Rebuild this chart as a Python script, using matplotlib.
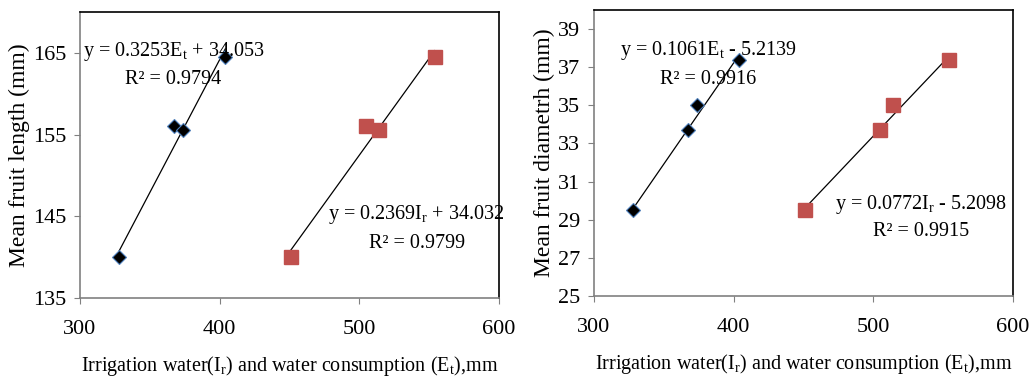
import matplotlib.pyplot as plt
import numpy as np

plt.rcParams['font.family'] = 'Liberation Serif'
plt.rcParams['mathtext.fontset'] = 'custom'
plt.rcParams['mathtext.rm'] = 'Liberation Serif'
plt.rcParams['mathtext.it'] = 'Liberation Serif:italic'

# water amounts, mm
et = [328, 367, 374, 404]
ir = [451, 505, 514, 554]

# fruit length and diameter, mm
length = [140, 156, 155.5, 164.5]
diam = [29.5, 33.7, 35.0, 37.4]

# trend lines as shown on the chart (slope, intercept)
len_fit_et = (0.3253, 34.053)
len_fit_ir = (0.2369, 34.032)
dia_fit_et = (0.1061, -5.2139)
dia_fit_ir = (0.0772, -5.2098)

xlab = 'Irrigation water(I$_\\mathrm{r}$) and water consumption (E$_\\mathrm{t}$),mm'

fig = plt.figure(figsize=(10.32, 3.8), dpi=100)
ax1 = fig.add_axes([80/1032, 82/380, 419/1032, 286/380])
ax2 = fig.add_axes([594/1032, 84/380, 419/1032, 286/380])


def panel(ax, y, fe, fi, ylim, yticks, ylabel, texts):
    for xs, f in [(et, fe), (ir, fi)]:
        xx = np.array([xs[0], xs[-1]])
        ax.plot(xx, f[0]*xx + f[1], color='black', lw=0.9, zorder=2)
    ax.plot(et, y, 'D', ms=7, color='black', mec='#4f81bd', mew=0.8, zorder=3)
    ax.plot(ir, y, 's', ms=9.5, color='#c0504d', mec='#c0504d', zorder=3)
    ax.set_xlim(300, 600)
    ax.set_xticks([300, 400, 500, 600])
    ax.set_ylim(*ylim)
    ax.set_yticks(yticks)
    ax.tick_params(labelsize=16, length=4, color='#808080')
    ax.tick_params(axis='x', pad=12)
    ax.tick_params(axis='y', pad=6)
    ax.set_ylabel(ylabel, fontsize=17, labelpad=2)
    ax.set_xlabel(xlab, fontsize=14.5, labelpad=11)
    for s in ax.spines.values():
        s.set_linewidth(1.2)
    ax.spines['left'].set_color('#808080')
    ax.spines['bottom'].set_color('#808080')
    for x, yy, t in texts:
        ax.text(x, yy, t, fontsize=14.5, ha='center', va='center')


panel(ax1, length, len_fit_et, len_fit_ir, (135, 170), [135, 145, 155, 165],
      'Mean fruit length (mm)',
      [(367, 165.2, 'y = 0.3253E$_\\mathrm{t}$ + 34.053'),
       (367, 161.7, 'R² = 0.9794'),
       (541, 145.2, 'y = 0.2369I$_\\mathrm{r}$ + 34.032'),
       (541, 141.7, 'R² = 0.9799')])

panel(ax2, diam, dia_fit_et, dia_fit_ir, (25, 40), list(range(25, 40, 2)),
      'Mean fruit diametrh (mm)',
      [(382, 37.9, 'y = 0.1061E$_\\mathrm{t}$ - 5.2139'),
       (382, 36.35, 'R² = 0.9916'),
       (534, 29.8, 'y = 0.0772I$_\\mathrm{r}$ - 5.2098'),
       (534, 28.4, 'R² = 0.9915')])

fig.savefig('out.png', dpi=100)
